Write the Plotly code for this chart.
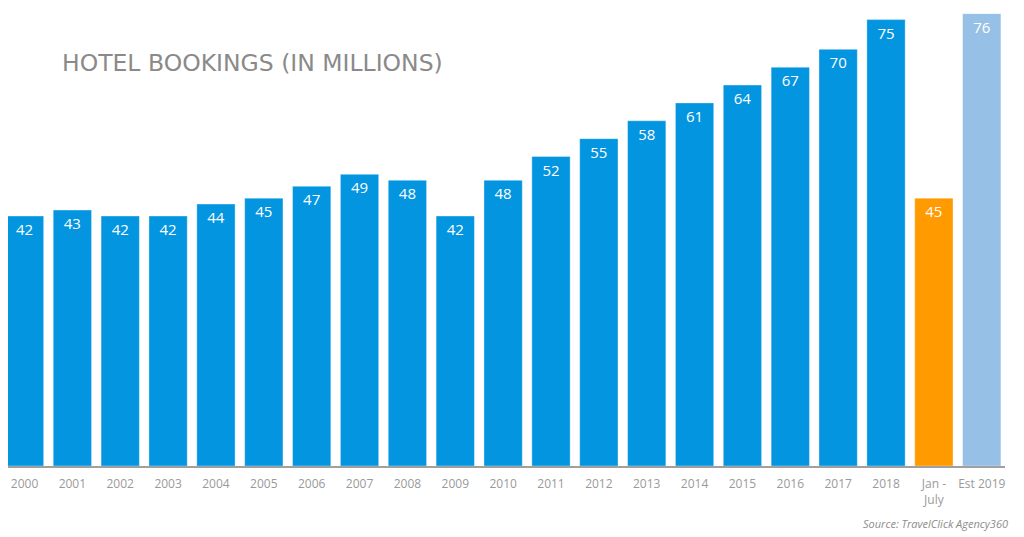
import plotly.graph_objects as go

years = ["2000", "2001", "2002", "2003", "2004", "2005", "2006", "2007", "2008", "2009",
         "2010", "2011", "2012", "2013", "2014", "2015", "2016", "2017", "2018",
         "Jan -<br>July", "Est 2019"]
bookings = [42, 43, 42, 42, 44, 45, 47, 49, 48, 42,
            48, 52, 55, 58, 61, 64, 67, 70, 75, 45, 76]
bar_colors = ["#0395e0"] * 19 + ["#ff9a00", "#97c0e6"]

fig = go.Figure()
fig.add_trace(go.Bar(
    x=years, y=bookings,
    marker=dict(color=bar_colors, line=dict(color="rgba(255,255,255,0.35)", width=1)),
    text=[str(v) for v in bookings],
    textposition="inside", insidetextanchor="end",
    textfont=dict(color="white", size=15, family="Open Sans"),
    textangle=0,
    hoverinfo="x+y",
))

# title and source note
fig.add_annotation(
    text="HOTEL BOOKINGS (IN MILLIONS)", xref="paper", yref="paper",
    x=0.052, y=0.88, xanchor="left", yanchor="middle", showarrow=False,
    font=dict(family="DejaVu Sans", size=23.5, color="#8a8a8a"),
)
fig.add_annotation(
    text="<i>Source: TravelClick Agency360</i>", xref="paper", yref="paper",
    x=1.005, y=-0.1245, xanchor="right", yanchor="middle", showarrow=False,
    font=dict(family="Open Sans", size=11, color="#8c8c8c"),
)

fig.update_layout(
    width=1016, height=529,
    margin=dict(l=0, r=19, t=0, b=71),
    plot_bgcolor="white", paper_bgcolor="white",
    bargap=0.2, showlegend=False,
    xaxis=dict(showline=True, linecolor="#a0a0a0", linewidth=1.5,
               range=[-0.345, 20.486],
               tickfont=dict(family="Open Sans", size=12, color="#9a9a9a"),
               ticklabelstandoff=6,
               ticks="", showgrid=False),
    yaxis=dict(range=[0, 76.95], visible=False, showgrid=False),
)

fig.write_html("out.html")
